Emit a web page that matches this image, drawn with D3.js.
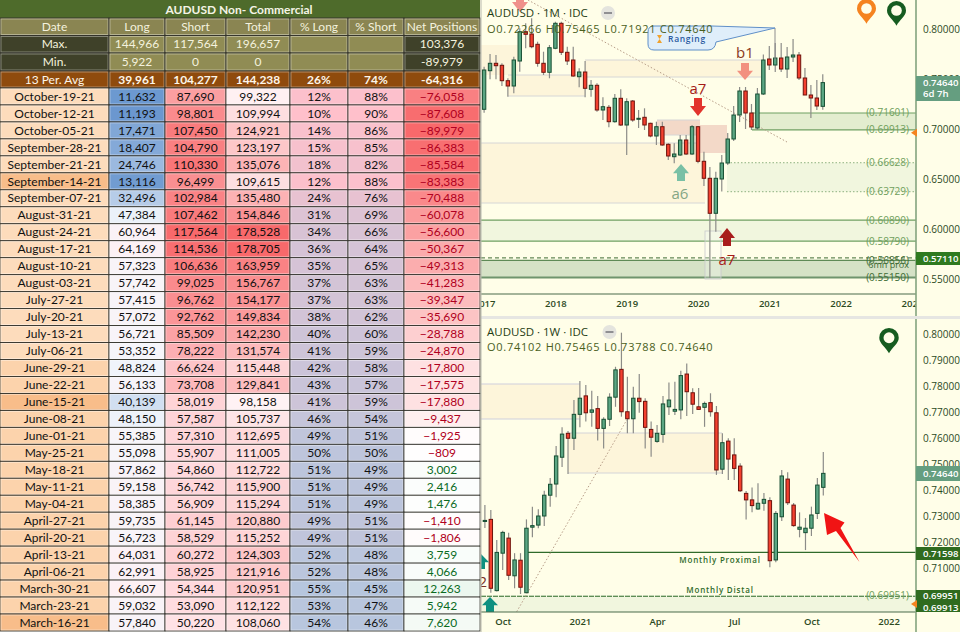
<!DOCTYPE html>
<html lang="en">
<head>
<meta charset="UTF-8">
<title>AUDUSD Non- Commercial</title>
<script src="https://d3js.org/d3.v7.min.js"></script>
<style>
  body { margin: 0; background: #fffee8; overflow: hidden; }
  svg { display: block; }
  .cell { font-family: Lato, "Open Sans", sans-serif; font-size: 12px; }
  .chart { font-family: "Open Sans", sans-serif; }
  .axis path, .axis line { display: none; }
</style>
</head>
<body>
<script>
// ---- table data ----
const tableColumns = ["Date", "Long", "Short", "Total", "% Long", "% Short", "Net Positions"];
const maxRow = ["Max.", "144,966", "117,564", "196,657", "", "", "103,376"];
const minRow = ["Min.", "5,922", "0", "0", "", "", "-89,979"];
const avgRow = ["13 Per. Avg", "39,961", "104,277", "144,238", "26%", "74%", "-64,316"];
const dates = ["October-19-21","October-12-21","October-05-21","September-28-21","September-21-21","September-14-21","September-07-21","August-31-21","August-24-21","August-17-21","August-10-21","August-03-21","July-27-21","July-20-21","July-13-21","July-06-21","June-29-21","June-22-21","June-15-21","June-08-21","June-01-21","May-25-21","May-18-21","May-11-21","May-04-21","April-27-21","April-20-21","April-13-21","April-06-21","March-30-21","March-23-21","March-16-21"];
const longs = [11632,11193,17471,18407,24746,13116,32496,47384,60964,64169,57323,57742,57415,57072,56721,53352,48824,56133,40139,48150,55385,55098,57862,59158,58385,59735,56723,64031,62991,66607,59032,57840];
const shorts = [87690,98801,107450,104790,110330,96499,102984,107462,117564,114536,106636,99025,96762,92762,85509,78222,66624,73708,58019,57587,57310,55907,54860,56742,56909,61145,58529,60272,58925,54344,53090,50220];
const totals = [99322,109994,124921,123197,135076,109615,135480,154846,178528,178705,163959,156767,154177,149834,142230,131574,115448,129841,98158,105737,112695,111005,112722,115900,115294,120880,115252,124303,121916,120951,112122,108060];
const pctLong = [12,10,14,15,18,12,24,31,34,36,35,37,37,38,40,41,42,43,41,46,49,50,51,51,51,49,49,52,52,55,53,54];
const pctShort = [88,90,86,85,82,88,76,69,66,64,65,63,63,62,60,59,58,57,59,54,51,50,49,49,49,51,51,48,48,45,47,46];
const netPositions = [-76058,-87608,-89979,-86383,-85584,-83383,-70488,-60078,-56600,-50367,-49313,-41283,-39347,-35690,-28788,-24870,-17800,-17575,-17880,-9437,-1925,-809,3002,2416,1476,-1410,-1806,3759,4066,12263,5942,7620];
const highlightedDates = ["September-14-21", "June-15-21", "March-16-21"];

// ---- monthly candles, Jan 2017 onward: [open, high, low, close] ----
const monthlyOhlc = [
  [.7197,.7623,.7163,.7590],[.7583,.7750,.7497,.7657],[.7657,.7740,.7497,.7633],[.7637,.7657,.7430,.7483],
  [.7483,.7507,.7323,.7430],[.7430,.7723,.7357,.7690],[.7680,.8007,.7573,.7973],[.7973,.8057,.7807,.7947],
  [.7950,.8107,.7807,.7823],[.7847,.7873,.7623,.7657],[.7657,.7773,.7540,.7567],[.7567,.7840,.7507,.7813],
  [.7807,.8073,.7797,.8057],[.8057,.8073,.7740,.7767],[.7767,.7823,.7640,.7680],[.7690,.7823,.7523,.7530],
  [.7523,.7607,.7417,.7570],[.7570,.7680,.7317,.7407],[.7397,.7490,.7323,.7437],[.7437,.7457,.7173,.7190],
  [.7190,.7317,.7090,.7223],[.7217,.7240,.7017,.7073],[.7073,.7350,.7063,.7307],[.7307,.7397,.7030,.7040],
  [.7040,.7307,.6740,.7273],[.7280,.7290,.7073,.7090],[.7097,.7190,.7010,.7107],[.7117,.7207,.6990,.7040],
  [.7057,.7063,.6917,.6930],[.6930,.7073,.6840,.7023],[.7023,.7073,.6833,.6840],[.6847,.6857,.6690,.6730],
  [.6723,.6857,.6657,.6750],[.6740,.6940,.6730,.6890],[.6890,.6940,.6740,.6750],[.6750,.7040,.6740,.7023],
  [.7023,.7030,.6657,.6677],[.6677,.6773,.6430,.6507],[.6507,.6620,.5510,.6157],[.6157,.6573,.5973,.6507],
  [.6500,.6740,.6374,.6660],[.6660,.6960,.6640,.6900],[.6900,.7230,.6880,.7140],[.7140,.7420,.7070,.7380],
  [.7380,.7420,.7000,.7160],[.7160,.7250,.6990,.7020],[.7010,.7410,.6990,.7350],[.7350,.7745,.7340,.7690],
  [.7700,.7830,.7590,.7640],[.7640,.7860,.7570,.7710],[.7710,.7860,.7570,.7600],[.7600,.7820,.7510,.7720],
  [.7720,.7900,.7670,.7740],[.7740,.7770,.7490,.7510],[.7510,.7610,.7340,.7340],[.7340,.7440,.7110,.7310],
  [.7310,.7490,.7190,.7230],[.72266,.75465,.71921,.74640]
];

// ---- weekly candles, index 0 = the "Oct" tick week; starts 3 bars earlier ----
const weeklyOhlc = [
  [.7279,.7342,.7254,.7283],[.7287,.7323,.7005,.7022],[.7013,.7208,.7010,.7160],[.7157,.7243,.7092,.7237],
  [.7215,.7236,.7054,.7072],[.7070,.7157,.7022,.7131],[.7130,.7157,.7000,.7026],[.7005,.7287,.7003,.7253],
  [.7257,.7336,.7218,.7263],[.7265,.7326,.7253,.7300],[.7300,.7397,.7262,.7380],[.7380,.7446,.7336,.7422],
  [.7423,.7569,.7372,.7531],[.7526,.7641,.7488,.7615],[.7618,.7627,.7462,.7599],[.7599,.7746,.7554,.7691],
  [.7691,.7819,.7641,.7753],[.7762,.7804,.7663,.7697],[.7699,.7782,.7643,.7708],[.7713,.7762,.7590,.7637],
  [.7637,.7680,.7560,.7672],[.7672,.7772,.7646,.7757],[.7757,.7874,.7720,.7862],[.7864,.8005,.7682,.7701],
  [.7701,.7836,.7618,.7674],[.7674,.7797,.7618,.7753],[.7753,.7846,.7697,.7740],[.7741,.7753,.7560,.7641],
  [.7633,.7663,.7528,.7603],[.7587,.7650,.7582,.7618],[.7614,.7762,.7582,.7731],[.7720,.7813,.7688,.7746],
  [.7703,.7816,.7688,.7710],[.7708,.7859,.7672,.7840],[.7846,.7887,.7685,.7778],[.7774,.7791,.7692,.7730],
  [.7720,.7792,.7708,.7710],[.7718,.7740,.7643,.7733],[.7736,.7772,.7682,.7701],[.7697,.7723,.7458,.7477],
  [.7480,.7618,.7462,.7582],[.7588,.7599,.7438,.7519],[.7535,.7599,.7438,.7483],[.7492,.7503,.7392,.7397],
  [.7387,.7396,.7287,.7362],[.7362,.7410,.7314,.7340],[.7327,.7426,.7323,.7349],[.7349,.7388,.7320,.7364],
  [.7359,.7372,.7103,.7128],[.7131,.7319,.7122,.7310],[.7297,.7477,.7281,.7454],[.7442,.7468,.7342,.7351],
  [.7342,.7350,.7259,.7263],[.7249,.7314,.7218,.7257],[.7236,.7292,.7169,.7253],[.7253,.7336,.7223,.7304],
  [.7310,.7446,.7288,.7419],[.74102,.75465,.73788,.74640]
];

// ---- axis ticks ----
const monthlyTickMonths = [0, 12, 24, 36, 48, 60, 72];
const monthlyTickLabels = ["2017", "2018", "2019", "2020", "2021", "2022", "2023"];
const monthlyPriceTicks = [0.80, 0.75, 0.70, 0.65, 0.60, 0.55];
const weeklyTickBars = [0, 13, 26, 39, 52, 65];
const weeklyTickLabels = ["Oct", "2021", "Apr", "Jul", "Oct", "2022"];
const weeklyPriceTicks = [0.80, 0.79, 0.78, 0.77, 0.76, 0.75, 0.74, 0.73, 0.72, 0.71];

// ---- price levels labelled on the charts ----
const monthlyLevels = [0.71601, 0.69913, 0.66628, 0.63729, 0.60890, 0.58790, 0.56856, 0.55150];
const monthlyLastPrice = 0.74640, monthlyDashed = 0.57110;
const weeklyProximal = 0.71598, weeklyDistal = 0.69951, weeklyZoneLow = 0.68845, weeklyLastPrice = 0.74640;

const width = 960, height = 632;
const svg = d3.select("body").append("svg").attr("width", width).attr("height", height);
const bg = "#fffee8";
svg.append("rect").attr("width", width).attr("height", height).attr("fill", bg);

const fmtPrice = d3.format(".5f");
const axisX = 916;

const defs = svg.append("defs");
defs.append("clipPath").attr("id", "clip1M").append("rect").attr("x", 481).attr("y", 0).attr("width", axisX - 481).attr("height", 294);
defs.append("clipPath").attr("id", "clip1W").append("rect").attr("x", 481).attr("y", 319).attr("width", axisX - 481).attr("height", 293);
defs.append("clipPath").attr("id", "clipX").append("rect").attr("x", 481).attr("y", 0).attr("width", axisX - 481).attr("height", height);

// ---- scales ----
const xM = d3.scaleLinear().domain([36, 60]).range([698, 840.6]);
const yM = d3.scaleLinear().domain([0.80, 0.55]).range([29, 279]);
const xW = d3.scaleLinear().domain([0, 54]).range([502.7, 823.3]);
const yW = d3.scaleLinear().domain([0.80, 0.74]).range([334, 490]);

// ---- helpers ----
function zone(g, x0, x1, y0, y1, fill, stroke, sw, dash) {
  g.append("rect").attr("x", x0).attr("y", y0).attr("width", x1 - x0).attr("height", y1 - y0)
    .attr("fill", fill);
  if (stroke) [y0, y1].forEach(y => hline(g, x0, x1, y, stroke, sw || 1, dash));
}
function hline(g, x0, x1, y, stroke, sw, dash) {
  g.append("line").attr("x1", x0).attr("x2", x1).attr("y1", y).attr("y2", y)
    .attr("stroke", stroke).attr("stroke-width", sw).attr("stroke-dasharray", dash || null);
}
function candles(g, data, x, y, firstIndex) {
  const c = g.selectAll("g.c").data(data).enter().append("g").attr("class", "c");
  c.append("line")
    .attr("x1", (d, i) => x(i + firstIndex)).attr("x2", (d, i) => x(i + firstIndex))
    .attr("y1", d => y(d[1])).attr("y2", d => y(d[2]))
    .attr("stroke", "#8c8c88").attr("stroke-width", 1.2);
  c.append("rect")
    .attr("x", (d, i) => x(i + firstIndex) - 1.7).attr("width", 3.4)
    .attr("y", d => y(Math.max(d[0], d[3])))
    .attr("height", d => Math.max(1, Math.abs(y(d[0]) - y(d[3]))))
    .attr("fill", d => d[3] >= d[0] ? "#5ba683" : "#f3402f")
    .attr("stroke", d => d[3] >= d[0] ? "#174f33" : "#6e120c")
    .attr("stroke-width", 1);
}
// block arrow, tip at (x, tipY), tail at (x, endY)
function arrow(g, x, tipY, endY, fill) {
  const dir = endY > tipY ? 1 : -1, len = Math.abs(endY - tipY), head = len * 0.55;
  const pts = [[x, tipY], [x + 8, tipY + dir * head], [x + 4, tipY + dir * head], [x + 4, endY],
               [x - 4, endY], [x - 4, tipY + dir * head], [x - 8, tipY + dir * head]];
  g.append("polygon").attr("points", pts.join(" ")).attr("fill", fill);
}
function pin(g, cx, top, w, color) {
  const r = w / 2, h = w * 1.3;
  g.append("path").attr("fill", color)
    .attr("d", `M${cx},${top + h} C${cx - 3},${top + h - 6} ${cx - r},${top + r + 6} ${cx - r},${top + r}
      A${r},${r} 0 1 1 ${cx + r},${top + r} C${cx + r},${top + r + 6} ${cx + 3},${top + h - 6} ${cx},${top + h} Z`);
  g.append("circle").attr("cx", cx).attr("cy", top + r).attr("r", r * 0.56).attr("fill", bg);
}
function tag(g, y0, y1, fill, lines) {
  g.append("rect").attr("x", axisX).attr("y", y0).attr("width", 44).attr("height", y1 - y0).attr("fill", fill);
  lines.forEach(l => g.append("text").attr("x", 923).attr("y", l.y).text(l.t)
    .attr("fill", "#fff").attr("font-size", 9.6).attr("font-weight", 600));
}
function header(g, title, ohlc, yTitle, yOhlc, pillX) {
  g.append("text").attr("x", 487).attr("y", yTitle).text(title)
    .attr("font-size", 11.5).attr("fill", "#1f3d14");
  g.append("circle").attr("cx", pillX).attr("cy", yTitle - 4).attr("r", 7).attr("fill", "#e4e4de");
  g.append("rect").attr("x", pillX - 4).attr("y", yTitle - 5).attr("width", 8).attr("height", 2).attr("fill", "#8f8f92");
  g.append("text").attr("x", 487).attr("y", yOhlc).text(ohlc)
    .attr("font-size", 11).attr("fill", "#4a5f1c").attr("letter-spacing", 0.74);
}
function levelLabel(g, price, y, color) {
  g.append("text").attr("x", 909).attr("y", y(price) + 3.5).attr("text-anchor", "end")
    .text(`(${fmtPrice(price)})`).attr("font-size", 10).attr("fill", color || "#6f9f5c");
}
function axes(g, xScale, yScale, xTicks, xLabels, yTicks, axisY) {
  const labels = new Map(xTicks.map((t, i) => [t, xLabels[i]]));
  g.append("g").attr("class", "axis").attr("clip-path", "url(#clipX)")
    .attr("transform", `translate(0,${axisY})`)
    .call(d3.axisBottom(xScale).tickValues(xTicks).tickFormat(d => labels.get(d)).tickSize(0).tickPadding(6))
    .selectAll("text").attr("font-size", 9.5).attr("font-weight", 600).attr("fill", "#2c4a1e")
    .attr("font-family", '"Open Sans", sans-serif');
  g.append("g").attr("class", "axis").attr("transform", `translate(${axisX},0)`)
    .call(d3.axisRight(yScale).tickValues(yTicks).tickFormat(fmtPrice).tickSize(0).tickPadding(7))
    .selectAll("text").attr("font-size", 10).attr("fill", "#2c4a1e")
    .attr("font-family", '"Open Sans", sans-serif');
  hline(g, 481, axisX, axisY, "#4b6a4b", 1.2);
}

// ---- 1M chart ----
const m = svg.append("g").attr("class", "chart");
const mPlot = m.append("g").attr("clip-path", "url(#clip1M)");
const beige = "#fdf5da", zoneLine = "#d6d6d6";
zone(mPlot, 480, 518, 45, 75, beige);
zone(mPlot, 508, 585, 75, 96, beige, zoneLine);
zone(mPlot, 585, 761, 60, 77, beige, zoneLine);
zone(mPlot, 480, 705, 143, 203, beige, zoneLine);
zone(mPlot, 657, 700, 120, 135, "#f3d9c8", zoneLine);
zone(mPlot, 698, 727, 125, 153, "#f3d9c8");
const paleGreen = "#f1f6de", green = "#6f9f62";
zone(mPlot, 752, axisX, yM(0.71601), yM(0.69913), "#e3edcf", green, 1.2);
zone(mPlot, 727, axisX, yM(0.66628), yM(0.63729), paleGreen, "#8db07f", 1, "1.5,2");
zone(mPlot, 481, axisX, yM(0.60890), yM(0.58790), paleGreen, green, 1.2);
hline(mPlot, 481, axisX, yM(monthlyDashed), "#3f6b33", 1, "4,3");
zone(mPlot, 481, axisX, yM(0.56856), yM(0.55150), "#d5e2c6");
hline(mPlot, 481, axisX, yM(0.56856), "#5e8a56", 1.2);
hline(mPlot, 481, axisX, yM(0.55150), "#6f946d", 2);
mPlot.append("rect").attr("x", 705).attr("y", 231).attr("width", 16).attr("height", 48)
  .attr("fill", "#fff").attr("fill-opacity", 0.25).attr("stroke", "#c8c8cc").attr("stroke-width", 0.8);

// trend line
mPlot.append("line").attr("x1", 528).attr("y1", 0).attr("x2", 787).attr("y2", 142)
  .attr("stroke", "#b79d88").attr("stroke-width", 1).attr("stroke-dasharray", "1.5,2");

candles(mPlot, monthlyOhlc, xM, yM, 0);
axes(m, xM, yM, monthlyTickMonths, monthlyTickLabels, monthlyPriceTicks, 294);

// annotations on 1M
arrow(mPlot, 520, 12, -6, "#f0908a");
arrow(mPlot, 698, 116, 98, "#e2342c");
mPlot.append("text").attr("x", 698).attr("y", 94).attr("text-anchor", "middle").text("a7")
  .attr("font-size", 15).attr("fill", "#a51c18");
arrow(mPlot, 745, 80, 63, "#f2907f");
mPlot.append("text").attr("x", 745).attr("y", 58).attr("text-anchor", "middle").text("b1")
  .attr("font-size", 15).attr("fill", "#8a3a22");
arrow(mPlot, 681, 164, 181, "#79c0a5");
mPlot.append("text").attr("x", 680).attr("y", 199).attr("text-anchor", "middle").text("a6")
  .attr("font-size", 15).attr("fill", "#84a685");
arrow(mPlot, 727, 228, 246, "#a81c1c");
mPlot.append("text").attr("x", 727).attr("y", 265).attr("text-anchor", "middle").text("a7")
  .attr("font-size", 15).attr("fill", "#a51c18");

// Ranging callout
mPlot.append("line").attr("x1", 775).attr("x2", 775).attr("y1", 28).attr("y2", 60).attr("stroke", "#8e8e8e");
mPlot.append("path")
  .attr("d", "M654,26 H712 L775,28 L716,42 Q715,50 708,50 H654 Q648,50 648,44 V32 Q648,26 654,26 Z")
  .attr("fill", "#dfeefa").attr("stroke", "#5f8fc8").attr("stroke-width", 1);
mPlot.append("path").attr("d", "M657,35 h5 l-2.5,4 l2.5,4 h-5 l2.5,-4 Z").attr("fill", "#f0a12c");
mPlot.append("text").attr("x", 668).attr("y", 41.5).text("Ranging")
  .attr("font-size", 8.5).attr("fill", "#2a5aa0").attr("font-weight", 600).attr("letter-spacing", 0.7);

monthlyLevels.forEach(p => levelLabel(m, p, yM, p < 0.57 ? "#3d6b34" : "#6f9f5c"));
m.append("text").attr("x", 909).attr("y", 268).attr("text-anchor", "end").text("6mn prox")
  .attr("font-size", 9).attr("fill", "#3d6b34");
header(m, "AUDUSD · 1M · IDC", "O0.72266 H0.75465 L0.71921 C0.74640", 17, 33, 608);
pin(m, 866.5, -1, 19, "#f5831f");
pin(m, 896.5, 1, 19, "#165c20");

m.append("line").attr("x1", axisX).attr("x2", axisX).attr("y1", 0).attr("y2", 317).attr("stroke", "#84a47e").attr("stroke-width", 1.6);
tag(m, 76, 101, "#659e80", [{ y: 86, t: fmtPrice(monthlyLastPrice) }, { y: 97, t: "6d 7h" }]);
tag(m, 252, 265, "#2f7a1f", [{ y: 262, t: fmtPrice(monthlyDashed) }]);
m.append("polygon").attr("points", `${axisX - 5},${yM(0.69913) + 3} ${axisX + 1},${yM(0.69913) - 1} ${axisX + 1},${yM(0.69913) + 7}`).attr("fill", "#f5831f");

// separator
svg.append("rect").attr("x", 481).attr("y", 316).attr("width", 479).attr("height", 3).attr("fill", "#e6e6e2");

// ---- 1W chart ----
const w = svg.append("g").attr("class", "chart");
const wPlot = w.append("g").attr("clip-path", "url(#clip1W)");
zone(wPlot, 480, 580, 384, 419, beige, "#cfcfdc");
zone(wPlot, 568, 722, 433, 473, beige, "#d4d4d8");
zone(wPlot, 481, axisX, yW(weeklyDistal), yW(weeklyZoneLow), paleGreen);
hline(wPlot, 528, axisX, yW(weeklyProximal), "#2f6b2a", 1.2);
hline(wPlot, 481, axisX, yW(weeklyDistal) + 1, "#2f6b2a", 1.2, "5,1");
hline(wPlot, 481, axisX, yW(weeklyZoneLow), "#2f6b2a", 1.4);

wPlot.append("line").attr("x1", 516.7).attr("y1", 611.7).attr("x2", 626.7).attr("y2", 420)
  .attr("stroke", "#b79d88").attr("stroke-width", 1).attr("stroke-dasharray", "1.5,2");

candles(wPlot, weeklyOhlc, xW, yW, -3);
axes(w, xW, yW, weeklyTickBars, weeklyTickLabels, weeklyPriceTicks, 612);

wPlot.append("text").attr("x", 720).attr("y", 563).attr("text-anchor", "middle").text("Monthly Proximal")
  .attr("font-size", 8).attr("font-weight", 600).attr("fill", "#2f6b2a").attr("letter-spacing", 0.8);
wPlot.append("text").attr("x", 720).attr("y", 593).attr("text-anchor", "middle").text("Monthly Distal")
  .attr("font-size", 8).attr("font-weight", 600).attr("fill", "#2f6b2a").attr("letter-spacing", 0.8);
levelLabel(wPlot, weeklyDistal, yW);
arrow(wPlot, 490, 597, 612, "#0f9080");
arrow(wPlot, 481, 554, 569, "#0f9080");
wPlot.append("text").attr("x", 487).attr("y", 587).attr("text-anchor", "end").text("a2")
  .attr("font-size", 15).attr("fill", "#7a2e1e");

// big red arrow pointing at the last bars
wPlot.append("polygon")
  .attr("points", "824,513 844.5,522.5 840.5,528 859.5,562 836,531 827,535")
  .attr("fill", "#f01414");

header(w, "AUDUSD · 1W · IDC", "O0.74102 H0.75465 L0.73788 C0.74640", 336, 351, 609.5);
pin(w, 889, 328, 19.5, "#165c20");

w.append("line").attr("x1", axisX).attr("x2", axisX).attr("y1", 319).attr("y2", 632).attr("stroke", "#84a47e").attr("stroke-width", 1.6);
tag(w, 466, 481, "#659e80", [{ y: 477, t: fmtPrice(weeklyLastPrice) }]);
tag(w, 547, 560, "#2f6b1f", [{ y: 557, t: fmtPrice(weeklyProximal) }]);
tag(w, 590, 612, "#2f6b1f", [{ y: 599, t: fmtPrice(weeklyDistal) }, { y: 611, t: "0.69913" }]);
w.append("polygon").attr("points", `${axisX - 5},604 ${axisX + 1},600 ${axisX + 1},608`).attr("fill", "#f5831f");

// ---- table ----
const colEdges = [0, 109, 165, 226, 290, 348, 404, 480];
const t = svg.append("g").attr("class", "cell");
t.append("rect").attr("width", 480).attr("height", height).attr("fill", "#fff");

function cell(i, y0, y1, fill, text, color, bold) {
  const x0 = colEdges[i], x1 = colEdges[i + 1];
  t.append("rect").attr("x", x0).attr("y", y0).attr("width", x1 - x0).attr("height", y1 - y0)
    .attr("fill", fill).attr("stroke", "#33332c").attr("stroke-width", 0.9);
  t.append("rect").attr("x", x0 + 1).attr("y", y0 + 1).attr("width", x1 - x0 - 2).attr("height", y1 - y0 - 2)
    .attr("fill", "none").attr("stroke", "#fff").attr("stroke-opacity", 0.45).attr("stroke-width", 0.8);
  t.append("text").attr("x", (x0 + x1) / 2).attr("y", (y0 + y1) / 2 + 4.2).attr("text-anchor", "middle")
    .text(text).attr("fill", color).attr("font-weight", bold ? 700 : 400);
}

t.append("rect").attr("x", 0).attr("y", 0).attr("width", 480).attr("height", 18).attr("fill", "#4e6b2b");
t.append("text").attr("x", 239).attr("y", 13.5).attr("text-anchor", "middle").text("AUDUSD Non- Commercial")
  .attr("fill", "#f4f4e6").attr("font-weight", 700);

const headerFill = "#8a8552", darkFill = "#3f4129", lightText = "#f4f2de";
tableColumns.forEach((c, i) => cell(i, 18, 35.5, headerFill, c, lightText));
maxRow.forEach((c, i) => cell(i, 35.5, 53, i === 0 || i === 6 ? darkFill : "#908c54", c, lightText));
minRow.forEach((c, i) => cell(i, 53, 71, i === 0 || i === 6 ? darkFill : "#908c54", c, lightText));
avgRow.forEach((c, i) => cell(i, 71, 88, "#8f4b0d", c, "#fdf6ea", i > 0));

const rowY = d3.scaleBand().domain(dates).range([88, 631]);
const longColor = d3.scaleLinear().domain([11000, 50000, 70000]).range(["#6a97cf", "#f4f7fc", "#ffeef2"]);
const shortColor = d3.scaleLinear().domain([50000, 117564]).range(["#ffe2e6", "#f8696b"]);
const totalColor = d3.scaleLinear().domain([98000, 178705]).range(["#fff2f4", "#f8696b"]);
const pctColor = d3.scaleLinear().domain([90, 45]).range(["#ffc0cb", "#b6c6de"]);
const netColor = d3.scaleLinear().domain([-89979, 0, 103376]).range(["#f8696b", "#ffffff", "#63be7b"]);
const num = d3.format(",");

dates.forEach((d, r) => {
  const y0 = rowY(d), y1 = y0 + rowY.bandwidth();
  const dateFill = highlightedDates.includes(d) ? "#f8bd8a" : (r < 16 ? "#fddcbc" : "#fcd3ac");
  cell(0, y0, y1, dateFill, d, "#111");
  cell(1, y0, y1, longColor(longs[r]), num(longs[r]), "#111");
  cell(2, y0, y1, shortColor(shorts[r]), num(shorts[r]), "#111");
  cell(3, y0, y1, totalColor(totals[r]), num(totals[r]), "#111");
  cell(4, y0, y1, pctColor(100 - pctLong[r]), pctLong[r] + "%", "#111");
  cell(5, y0, y1, pctColor(pctShort[r]), pctShort[r] + "%", "#111");
  cell(6, y0, y1, netColor(netPositions[r]), num(netPositions[r]), netPositions[r] < 0 ? "#b00020" : "#0b6b1f");
});

svg.append("line").attr("x1", 481).attr("x2", 481).attr("y1", 0).attr("y2", height).attr("stroke", "#b8b8ae");
</script>
</body>
</html>
